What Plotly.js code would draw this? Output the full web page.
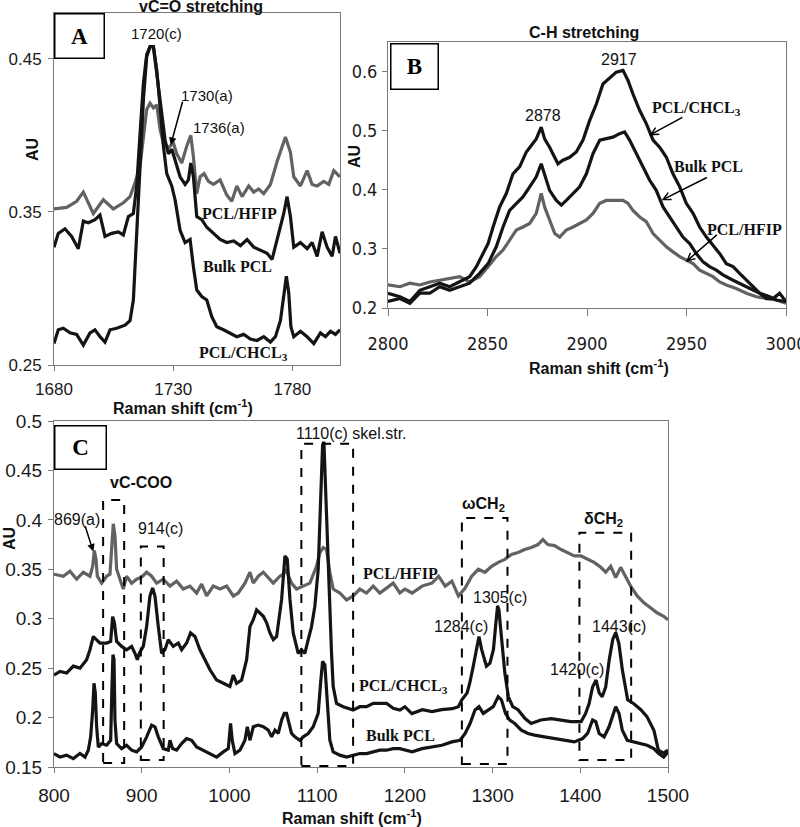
<!DOCTYPE html>
<html><head><meta charset="utf-8">
<script src="https://cdn.plot.ly/plotly-3.0.1.min.js"></script>
<style>body{margin:0;background:#fff}#chart{width:800px;height:827px}</style>
</head><body><div id="chart"></div>
<script>
// ---------- Panel A : vC=O stretching ----------
const A_hfip_x=[1680,1685.3,1689.5,1692.3,1696.5,1700.7,1704.9,1709.1,1711.9,1714,1716.1,1717.8,1718.9,1720.3,1721.7,1723.1,1724.5,1725.9,1728,1730.1,1731.5,1733.6,1735.7,1737.4,1738.5,1739.9,1741.3,1743,1744.8,1746.9,1749.7,1752.5,1754.6,1756.7,1758.9,1761.7,1763.8,1765.9,1768,1770.8,1773.6,1777.1,1779.2,1780.6,1783.4,1786.2,1788.3,1790.4,1793.2,1795.3,1797.4,1800];
const A_hfip_y=[0.352,0.353,0.357,0.363,0.349,0.358,0.352,0.356,0.360,0.369,0.380,0.401,0.417,0.421,0.418,0.420,0.404,0.395,0.392,0.395,0.388,0.382,0.393,0.400,0.386,0.362,0.373,0.375,0.370,0.368,0.371,0.361,0.357,0.367,0.360,0.367,0.363,0.365,0.362,0.368,0.383,0.399,0.389,0.373,0.367,0.377,0.368,0.367,0.370,0.368,0.377,0.373];
const A_bulk_x=[1680,1681.8,1684.6,1687.4,1690.2,1692.3,1694.4,1697.2,1699.3,1701.4,1704.2,1707,1709.1,1711.2,1713.3,1714.7,1716.1,1717.5,1718.9,1720.3,1721.7,1722.4,1723.8,1725.2,1726.6,1728,1729.4,1730.8,1732.9,1735,1736.4,1737.4,1738.5,1739.9,1742,1744.1,1746.9,1749.7,1752.5,1755.4,1758.2,1761,1763.8,1766.6,1769.4,1771.5,1773.6,1776.4,1777.8,1779.2,1780.6,1783.4,1786.2,1788.3,1790.4,1792.5,1794.6,1796.7,1798.1,1800];
const A_bulk_y=[0.327,0.336,0.339,0.334,0.326,0.344,0.343,0.345,0.348,0.334,0.336,0.337,0.335,0.347,0.349,0.367,0.401,0.434,0.453,0.458,0.458,0.449,0.432,0.412,0.397,0.388,0.391,0.384,0.373,0.368,0.371,0.382,0.373,0.347,0.345,0.340,0.336,0.332,0.330,0.331,0.328,0.332,0.327,0.325,0.323,0.319,0.332,0.349,0.360,0.347,0.327,0.330,0.326,0.330,0.321,0.337,0.327,0.321,0.334,0.323];
const A_chcl3_x=[1680,1681.8,1683.9,1686.7,1689.5,1692.3,1695.1,1697.2,1699.3,1701.4,1703.5,1706.3,1709.8,1711.9,1713.3,1714.7,1716.1,1717.5,1718.9,1720.3,1721.7,1723.1,1724.5,1725.9,1727.3,1729.4,1730.8,1732.9,1735,1737.1,1738.5,1739.9,1742,1744.1,1746.2,1748.3,1751.1,1753.9,1756.7,1759.6,1762.4,1765.2,1768,1770.8,1772.9,1775,1776.4,1777.5,1778.5,1779.4,1780.6,1783.4,1786.2,1789,1791.8,1793.9,1796,1798.1,1800];
const A_chcl3_y=[0.264,0.273,0.274,0.271,0.270,0.263,0.271,0.273,0.2685,0.265,0.273,0.274,0.276,0.279,0.2925,0.336,0.380,0.423,0.4515,0.458,0.458,0.443,0.419,0.393,0.375,0.367,0.358,0.338,0.330,0.332,0.314,0.299,0.2947,0.2925,0.2816,0.275,0.273,0.271,0.2685,0.270,0.267,0.266,0.2685,0.265,0.2685,0.279,0.297,0.308,0.297,0.275,0.2685,0.272,0.2685,0.264,0.271,0.2685,0.272,0.270,0.273];
const A_xticks=[1680,1730,1780];
const A_yticks=[0.25,0.35,0.45];
const A_yticktext=['0.25','0.35','0.45'];

// ---------- Panel B : C-H stretching ----------
const B_chcl3_x=[2800,2806,2811,2816,2821,2826,2831,2836,2841,2844.4,2847.7,2850.3,2852.8,2856.1,2859.5,2862.8,2866.2,2869.5,2872,2874.5,2877,2878.7,2881.2,2883.8,2885.4,2887.9,2891.3,2894.6,2898,2901.3,2904.7,2908,2911.4,2914.7,2918.1,2920.6,2923.1,2926.5,2929.8,2933.2,2936.5,2939.9,2943.2,2946.6,2949.9,2953.3,2956.6,2960,2963.3,2966.7,2970,2973.4,2976.7,2980.1,2983.4,2986.8,2990.1,2993.5,2996.8,3000];
const B_chcl3_y=[0.225,0.219,0.211,0.230,0.236,0.242,0.236,0.244,0.253,0.270,0.292,0.309,0.337,0.371,0.394,0.427,0.439,0.464,0.475,0.486,0.506,0.486,0.472,0.453,0.444,0.450,0.455,0.464,0.484,0.517,0.545,0.579,0.590,0.599,0.602,0.585,0.562,0.534,0.512,0.484,0.472,0.455,0.427,0.405,0.377,0.360,0.337,0.320,0.306,0.292,0.275,0.270,0.2585,0.247,0.236,0.225,0.216,0.216,0.225,0.211];
const B_bulk_x=[2800,2806,2811,2816,2821,2826,2831,2836,2841,2846,2850.3,2854.4,2857.8,2861.1,2864.5,2867.8,2871.2,2874.5,2877,2878.7,2881.2,2884.6,2887.1,2889.6,2893,2896.3,2899.7,2903,2906.4,2909.7,2913,2916.4,2918.9,2921.4,2924.8,2928.1,2931.5,2934.8,2938.2,2941.5,2944.9,2948.2,2951.6,2954.9,2958.3,2961.6,2965,2968.3,2973.4,2978.4,2983.4,2986.8,2991.8,2995.1,3000];
const B_bulk_y=[0.211,0.216,0.208,0.225,0.225,0.236,0.230,0.236,0.242,0.2585,0.275,0.3035,0.337,0.365,0.377,0.388,0.405,0.422,0.444,0.427,0.399,0.382,0.374,0.382,0.394,0.405,0.427,0.461,0.484,0.486,0.489,0.495,0.498,0.484,0.461,0.439,0.416,0.399,0.371,0.354,0.337,0.320,0.309,0.292,0.278,0.270,0.264,0.256,0.247,0.239,0.230,0.225,0.219,0.2135,0.211];
const B_hfip_x=[2800,2806,2811,2816,2821,2826,2831,2836,2841,2846,2850.3,2854.4,2857.8,2861.1,2864.5,2867.8,2871.2,2874.5,2877,2878.7,2881.2,2883.8,2886.3,2889.6,2893,2896.3,2899.7,2903,2906.4,2909.7,2914.7,2918.1,2920.6,2923.1,2926.5,2929.8,2933.2,2936.5,2939.9,2943.2,2946.6,2949.9,2953.3,2956.6,2960,2963.3,2966.7,2970,2975,2980.1,2985.1,2990.1,2995.1,3000];
const B_hfip_y=[0.239,0.236,0.242,0.239,0.244,0.247,0.250,0.253,0.244,0.253,0.270,0.287,0.298,0.315,0.332,0.337,0.343,0.360,0.394,0.371,0.349,0.326,0.320,0.332,0.337,0.343,0.349,0.360,0.377,0.382,0.382,0.382,0.377,0.365,0.354,0.346,0.326,0.315,0.3035,0.295,0.287,0.281,0.275,0.264,0.2585,0.253,0.244,0.239,0.233,0.225,0.219,0.216,0.2135,0.208];
const B_xticks=[2800,2850,2900,2950,3000];
const B_yticks=[0.2,0.3,0.4,0.5,0.6];
const B_yticktext=['0.2','0.3','0.4','0.5','0.6'];

// ---------- Panel C : 800-1500 cm-1 ----------
const C_hfip_x=[800,810.6,818.2,825.8,833.4,841,844.1,846,847.9,849.4,854.3,860,863.8,865.7,867.6,869.5,871.4,875.2,879,882.8,888.5,894.2,899.9,905.6,911.3,917,924.6,932.2,939.8,947.4,955,962.6,968.3,974,981.6,989.2,996.8,1004.4,1010.1,1017.7,1023.4,1027.2,1032.9,1038.6,1044.3,1050,1057.5,1061.4,1064.4,1067,1070.8,1076.5,1084.1,1091.7,1099.3,1103.1,1106.9,1110.7,1114.5,1118.3,1125.9,1133.5,1141.1,1148.7,1156.3,1163.9,1171.5,1179.1,1186.7,1194.3,1200,1208.3,1219.6,1230.9,1238.5,1246,1253.6,1261.1,1268.7,1276.2,1283.8,1291.3,1298.9,1306.4,1314,1321.5,1329.1,1336.6,1344.2,1351.7,1357.4,1363,1370.6,1378.1,1385.7,1393.2,1400.8,1408.3,1415.8,1423.4,1429,1434.7,1440.4,1446,1451.7,1457.4,1464.9,1472.5,1480,1487.5,1495.1,1500];
const C_hfip_y=[0.345,0.343,0.348,0.340,0.347,0.343,0.353,0.369,0.360,0.343,0.336,0.343,0.345,0.367,0.396,0.384,0.350,0.340,0.330,0.343,0.336,0.340,0.342,0.347,0.343,0.336,0.340,0.333,0.338,0.330,0.333,0.326,0.335,0.323,0.333,0.330,0.333,0.323,0.326,0.336,0.347,0.336,0.343,0.347,0.342,0.336,0.343,0.345,0.350,0.345,0.336,0.330,0.333,0.336,0.353,0.367,0.372,0.370,0.347,0.330,0.326,0.319,0.323,0.330,0.326,0.333,0.326,0.331,0.336,0.326,0.330,0.326,0.333,0.336,0.343,0.333,0.338,0.323,0.331,0.343,0.350,0.347,0.353,0.357,0.360,0.365,0.367,0.370,0.372,0.375,0.380,0.375,0.374,0.370,0.367,0.3635,0.3635,0.360,0.357,0.352,0.347,0.353,0.3415,0.352,0.343,0.333,0.323,0.316,0.311,0.306,0.3025,0.299];
const C_chcl3_x=[800,806.8,814.4,822,829.6,837.2,841,844.8,848.6,852.4,860,864.6,866.9,868.8,871.4,877.1,882.8,888.5,892.3,895,897.2,901.8,905.6,909.4,912.4,915.1,918.9,922.7,926.5,930.3,936,941.7,945.5,951.2,955.7,960.7,966.4,972.1,977.8,985.4,993,1000.6,1004.4,1008.2,1013.9,1019.6,1023.4,1027.2,1031,1034.8,1038.6,1042.4,1046.2,1050,1053.8,1059.5,1063.3,1065.9,1069,1072.7,1078.4,1082.2,1086,1089.8,1093.6,1097.4,1101.2,1103.9,1106.2,1107.7,1110,1112.6,1114.5,1116.4,1118.3,1122.1,1129.7,1141.1,1148.7,1156.3,1163.9,1171.5,1179.1,1186.7,1194.3,1200,1208,1220,1231,1242,1254,1261,1265,1271,1274,1278,1282,1284.5,1287.5,1293,1297,1301,1303.4,1305.7,1307.2,1310,1314,1318,1323,1329,1337,1344,1355,1367,1378,1389,1401,1406,1410,1414,1418,1421.5,1425,1429,1433,1437,1440.4,1444,1448,1454,1461,1469,1476,1484,1489,1495,1500];
const C_chcl3_y=[0.243,0.2466,0.245,0.252,0.250,0.2585,0.2686,0.282,0.2786,0.2754,0.2754,0.277,0.302,0.296,0.277,0.272,0.2686,0.272,0.265,0.2585,0.265,0.272,0.292,0.323,0.331,0.323,0.292,0.265,0.2686,0.2788,0.272,0.2754,0.2686,0.2754,0.2856,0.282,0.2686,0.2585,0.2483,0.238,0.2347,0.2314,0.243,0.2347,0.238,0.2585,0.292,0.299,0.309,0.3059,0.3025,0.2958,0.2856,0.2788,0.282,0.3195,0.3636,0.3603,0.3195,0.2856,0.265,0.2686,0.265,0.2788,0.292,0.3127,0.35,0.4178,0.4754,0.479,0.4178,0.3602,0.306,0.265,0.2314,0.2144,0.211,0.2076,0.211,0.211,0.2144,0.2144,0.2144,0.2093,0.2076,0.211,0.204,0.208,0.206,0.208,0.209,0.211,0.218,0.225,0.235,0.252,0.272,0.282,0.269,0.252,0.255,0.269,0.292,0.313,0.309,0.279,0.245,0.221,0.211,0.208,0.199,0.194,0.1975,0.199,0.1975,0.196,0.196,0.204,0.214,0.231,0.238,0.225,0.221,0.231,0.2585,0.279,0.286,0.275,0.248,0.218,0.214,0.208,0.201,0.187,0.167,0.164,0.167];
const C_bulk_x=[800,806.8,814.4,822,829.6,835.3,839.1,841.8,844.1,845.6,847.1,848.6,850.5,854.3,860,864.6,866.1,867.2,868.4,869.5,871.4,877.1,882.8,888.5,894.2,899.9,905.6,911.3,915.1,918.9,924.6,930.3,932.2,935.2,939.8,945.5,951.2,956.9,962.6,970.2,977.8,985.4,993,998.7,1001.3,1003.2,1006.3,1012,1017.7,1020.4,1023.4,1027.2,1032.9,1038.6,1044.3,1048.1,1051.9,1055.7,1059.5,1062.5,1065.1,1067.8,1070.8,1074.6,1080.3,1084.1,1089.8,1095.5,1101.2,1103.9,1106.2,1108.8,1110.7,1112.6,1114.5,1118.3,1125.9,1133.5,1141.1,1148.7,1156.3,1163.9,1171.5,1179.1,1186.7,1194.3,1200,1208.3,1219.6,1230.9,1242.3,1253.6,1263,1268.7,1274.3,1280,1284.5,1289.4,1295.1,1300.8,1306.4,1310.2,1314.7,1319.6,1325.3,1332.8,1340.4,1347.9,1359.2,1370.6,1381.9,1393.2,1402.6,1408.3,1414,1417.7,1421.5,1427.2,1432.8,1440.4,1444.2,1447.9,1453.6,1461.1,1468.7,1476.2,1483.8,1489.4,1495.1,1500];
const C_bulk_y=[0.1636,0.160,0.162,0.1585,0.1636,0.160,0.167,0.1805,0.2076,0.2347,0.2246,0.1907,0.170,0.1737,0.172,0.177,0.2314,0.2636,0.259,0.1975,0.1737,0.1686,0.172,0.167,0.1653,0.1703,0.1805,0.1924,0.1907,0.1805,0.1686,0.167,0.177,0.1686,0.167,0.1737,0.1788,0.177,0.1703,0.167,0.1636,0.160,0.1653,0.1686,0.194,0.177,0.1636,0.167,0.177,0.1907,0.177,0.1907,0.1924,0.1907,0.1873,0.1805,0.1873,0.1839,0.1975,0.2042,0.2042,0.194,0.1839,0.1805,0.177,0.1805,0.1839,0.1907,0.2042,0.2347,0.2568,0.2534,0.2314,0.2042,0.177,0.1653,0.162,0.160,0.162,0.1636,0.1636,0.1653,0.167,0.167,0.1686,0.1686,0.167,0.1653,0.1686,0.1703,0.172,0.1754,0.177,0.1839,0.194,0.2076,0.211,0.2042,0.2076,0.211,0.2212,0.2178,0.2042,0.1975,0.194,0.1873,0.1839,0.1822,0.1805,0.1788,0.177,0.1754,0.1788,0.1839,0.1975,0.1958,0.1839,0.1805,0.1907,0.211,0.2042,0.1873,0.177,0.1754,0.1737,0.172,0.1686,0.1636,0.160,0.1653];
const C_xticks=[800,900,1000,1100,1200,1300,1400,1500];
const C_yticks=[0.15,0.2,0.25,0.3,0.35,0.4,0.45,0.5];
const C_yticktext=['0.15','0.2','0.25','0.3','0.35','0.4','0.45','0.5'];

// ---------- styling / layout ----------
const W=800,H=827;
const px=v=>v/W, py=v=>1-v/H;
const BLACK='#141414', GREY='#626262';
const SANS='Liberation Sans, Arial, sans-serif';
const SERIF='Liberation Serif, Times New Roman, serif';
const NARROW='Liberation Sans Narrow, DejaVu Sans Condensed, sans-serif';

function tr(x,y,color,xa,ya){return {x:x,y:y,xaxis:xa,yaxis:ya,mode:'lines',line:{color:color,width:3.2},hoverinfo:'skip',showlegend:false};}
const data=[
  tr(A_hfip_x,A_hfip_y,GREY,'x','y'),
  tr(A_bulk_x,A_bulk_y,BLACK,'x','y'),
  tr(A_chcl3_x,A_chcl3_y,BLACK,'x','y'),
  tr(B_hfip_x,B_hfip_y,GREY,'x2','y2'),
  tr(B_bulk_x,B_bulk_y,BLACK,'x2','y2'),
  tr(B_chcl3_x,B_chcl3_y,BLACK,'x2','y2'),
  tr(C_hfip_x,C_hfip_y,GREY,'x3','y3'),
  tr(C_chcl3_x,C_chcl3_y,BLACK,'x3','y3'),
  tr(C_bulk_x,C_bulk_y,BLACK,'x3','y3')
];

function axis(o){return Object.assign({showgrid:false,zeroline:false,showline:true,linecolor:'#7a7a7a',linewidth:1,mirror:true,
  ticks:'outside',ticklen:5,tickcolor:'#7a7a7a',tickmode:'array',fixedrange:true,ticklabeloverflow:'allow'},o);}

const fA={family:SANS,size:17,color:'#1a1a1a'};
const fB={family:NARROW,size:18,color:'#1a1a1a'};
const fC={family:SANS,size:19,color:'#1a1a1a'};

const layout={
  width:W,height:H,margin:{l:0,r:0,t:0,b:0},paper_bgcolor:'#fff',plot_bgcolor:'#fff',showlegend:false,
  xaxis: axis({domain:[px(54),px(340)],range:[1680,1800],anchor:'y',tickvals:A_xticks,tickfont:fA,ticklabelstandoff:4}),
  yaxis: axis({domain:[py(365),py(13)],range:[0.25,0.48],anchor:'x',tickvals:A_yticks,ticktext:A_yticktext,tickfont:fA,ticklabelstandoff:3}),
  xaxis2: axis({domain:[px(388),px(786)],range:[2800,3000],anchor:'y2',tickvals:B_xticks,tickfont:fB,ticklen:7,ticklabelstandoff:12}),
  yaxis2: axis({domain:[py(308),py(42)],range:[0.2,0.65],anchor:'x2',tickvals:B_yticks,ticktext:B_yticktext,tickfont:fB,ticklabelstandoff:1}),
  xaxis3: axis({domain:[px(54),px(668)],range:[800,1500],anchor:'y3',tickvals:C_xticks,tickfont:fC,ticklabelstandoff:6}),
  yaxis3: axis({domain:[py(767),py(421)],range:[0.15,0.5],anchor:'x3',tickvals:C_yticks,ticktext:C_yticktext,tickfont:fC,ticklabelstandoff:2}),
  shapes:[], annotations:[]
};

// dashed boxes in panel C
function dbox(x0,x1,y0,y1){layout.shapes.push({type:'rect',xref:'x3',yref:'y3',x0:x0,x1:x1,y0:y0,y1:y1,line:{color:'#000',width:2,dash:'dash'},fillcolor:'rgba(0,0,0,0)'});}
dbox(856,880,0.154,0.42);
dbox(899,925,0.157,0.373);
dbox(1082,1141,0.151,0.477);
dbox(1265,1317,0.153,0.402);
dbox(1399,1458,0.157,0.387);

const ann=layout.annotations;
function txt(xr,yr,x,y,t,font,extra){ann.push(Object.assign({xref:xr,yref:yr,x:x,y:y,text:t,showarrow:false,font:font,xanchor:'center',yanchor:'middle'},extra||{}));}
function arrow(xr,yr,hx,hy,tx,ty,head){ann.push({xref:xr,yref:yr,axref:xr,ayref:yr,x:hx,y:hy,ax:tx,ay:ty,text:'',showarrow:true,arrowhead:head,arrowsize:1,arrowwidth:1.5,arrowcolor:'#000',standoff:0,startstandoff:0});}

const num={family:SANS,size:15,color:'#111'};
const num16={family:SANS,size:16,color:'#111'};
const bold={family:SANS,size:16,color:'#111',weight:'bold'};
const ser={family:SERIF,size:16,color:'#111',weight:'bold'};

// panel letters
function letter(cx,cy,w,h,t){ann.push({xref:'paper',yref:'paper',x:px(cx),y:py(cy),text:'<b>'+t+'</b>',showarrow:false,font:{family:SERIF,size:23,color:'#000'},
  bordercolor:'#000',borderwidth:1.5,borderpad:0,bgcolor:'#fff',width:w,height:h,xanchor:'center',yanchor:'middle',align:'center',valign:'middle'});}
letter(79.5,36,48,43,'A');
letter(414.5,66.5,46,44,'B');
letter(80.5,447.5,50,42,'C');

// titles and axis titles
txt('paper','paper',px(201),py(7),'<b>vC=O stretching</b>',bold);
txt('paper','paper',px(584),py(32),'<b>C-H stretching</b>',bold);
txt('paper','paper',px(32),py(150),'<b>AU</b>',bold,{textangle:-90});
txt('paper','paper',px(354),py(157),'<b>AU</b>',bold,{textangle:-90});
txt('paper','paper',px(9),py(539),'<b>AU</b>',bold,{textangle:-90});
txt('paper','paper',px(183),py(407),'<b>Raman shift (cm<sup>-1</sup>)</b>',bold);
txt('paper','paper',px(599),py(367),'<b>Raman shift (cm<sup>-1</sup>)</b>',bold);
txt('paper','paper',px(352),py(817),'<b>Raman shift (cm<sup>-1</sup>)</b>',bold);

// panel A labels
txt('x','y',1723.1,0.4668,'1720(c)',num);
txt('x','y',1744.2,0.426,'1730(a)',num);
txt('x','y',1749.3,0.405,'1736(a)',num);
arrow('x','y',1729.0,0.3938,1734.1,0.423,2);
txt('x','y',1757.7,0.349,'<b>PCL/HFIP</b>',ser);
txt('x','y',1756.8,0.3143,'<b>Bulk PCL</b>',ser);
txt('x','y',1759.4,0.2576,'<b>PCL/CHCL<sub>3</sub></b>',ser);

// panel B labels
txt('x2','y2',2916.3,0.620,'2917',num16);
txt('x2','y2',2878,0.525,'2878',num16);
txt('x2','y2',2954.8,0.538,'<b>PCL/CHCL<sub>3</sub></b>',ser);
txt('x2','y2',2961,0.440,'<b>Bulk PCL</b>',ser);
txt('x2','y2',2978.9,0.3334,'<b>PCL/HFIP</b>',ser);
arrow('x2','y2',2931.3,0.492,2948.7,0.524,5);
arrow('x2','y2',2937.5,0.3824,2961,0.422,5);
arrow('x2','y2',2949.7,0.278,2966,0.326,5);

// panel C labels
txt('x3','y3',899,0.438,'<b>vC-COO</b>',bold);
txt('x3','y3',826,0.4005,'869(a)',num16);
arrow('x3','y3',844.8,0.368,835,0.395,2);
txt('x3','y3',921,0.391,'914(c)',num16);
txt('x3','y3',1138.6,0.487,'1110(c) skel.str.',num16);
txt('x3','y3',1290,0.416,'<b>ωCH<sub>2</sub></b>',bold);
txt('x3','y3',1426,0.4005,'<b>δCH<sub>2</sub></b>',bold);
txt('x3','y3',1308,0.321,'1305(c)',num16);
txt('x3','y3',1264,0.292,'1284(c)',num16);
txt('x3','y3',1444,0.292,'1443(c)',num16);
txt('x3','y3',1396,0.249,'1420(c)',num16);
txt('x3','y3',1194.5,0.346,'<b>PCL/HFIP</b>',ser);
txt('x3','y3',1199,0.231,'<b>PCL/CHCL<sub>3</sub></b>',ser);
txt('x3','y3',1195,0.182,'<b>Bulk PCL</b>',ser);

Plotly.newPlot('chart',data,layout,{staticPlot:true,displayModeBar:false});
</script></body></html>
